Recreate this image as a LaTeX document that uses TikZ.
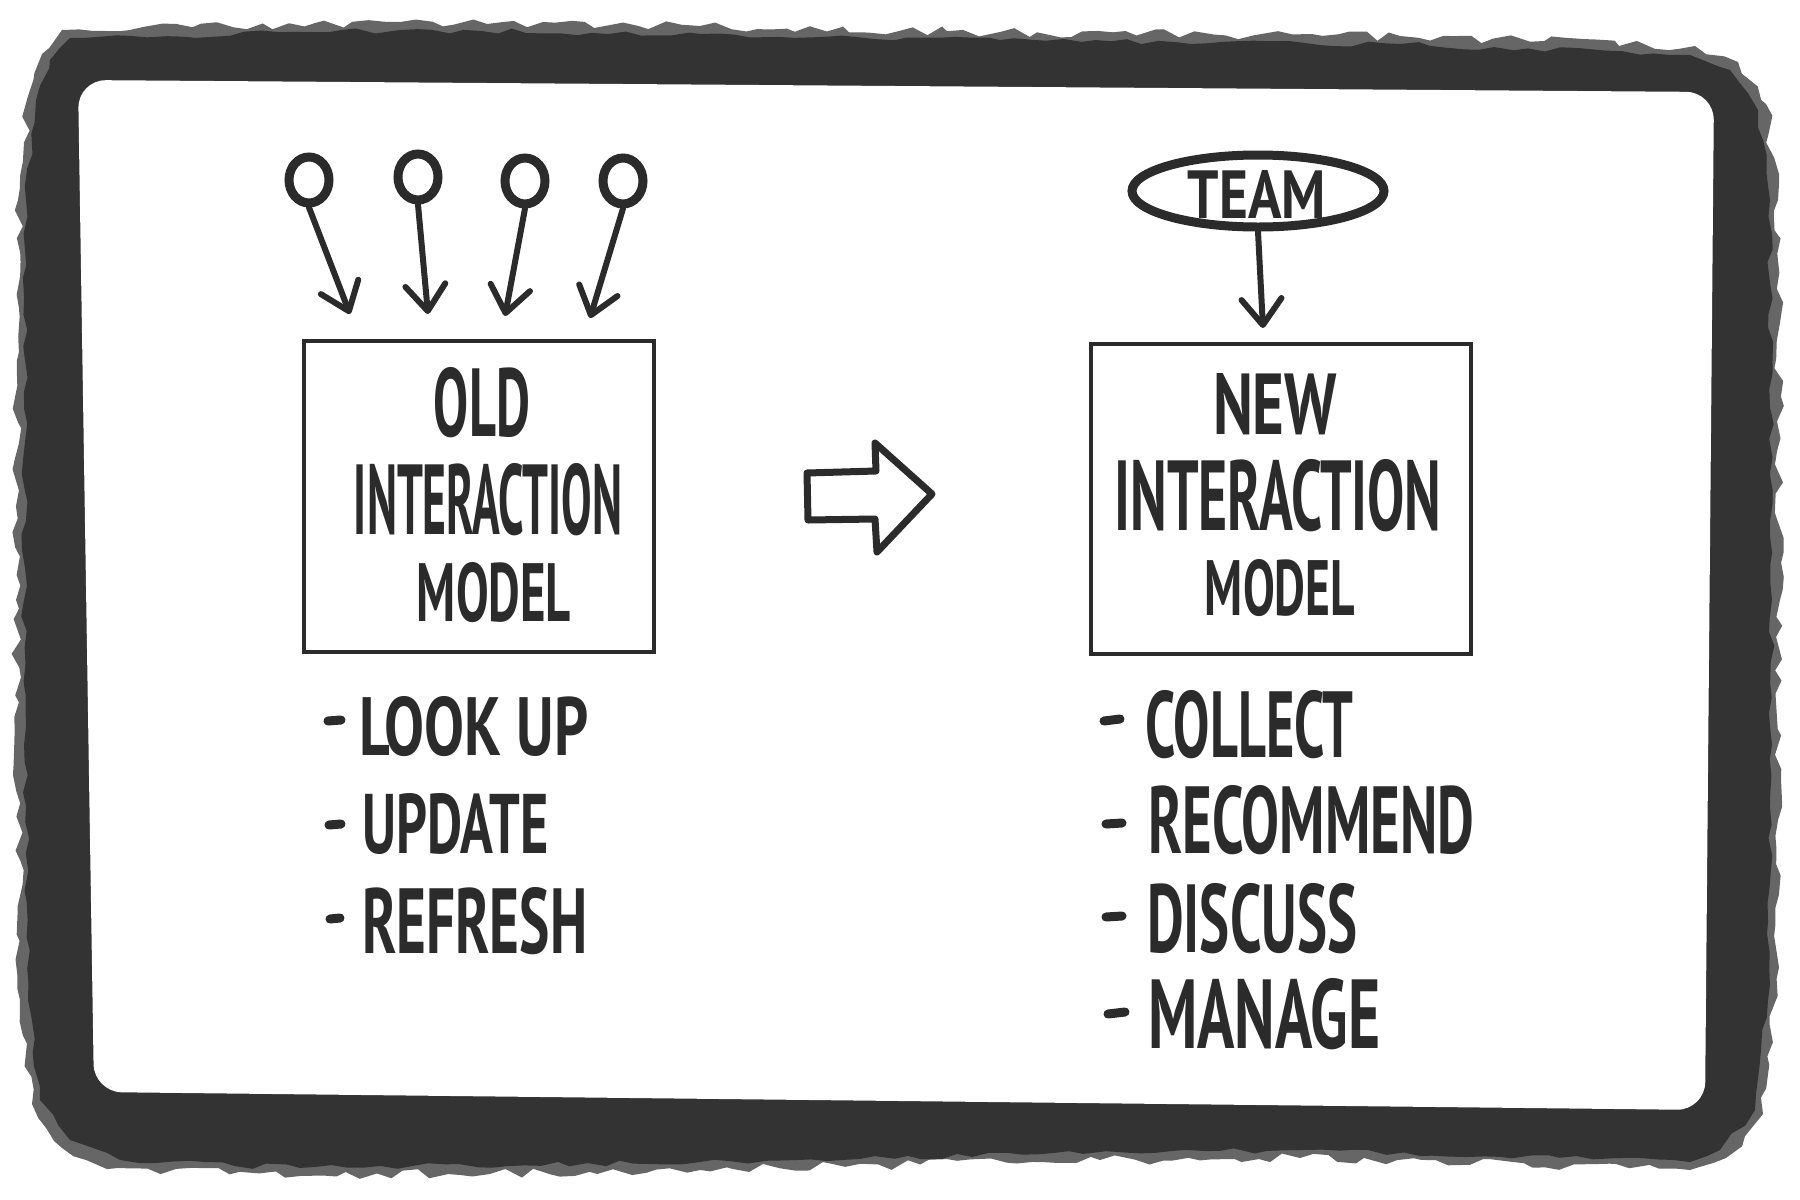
\documentclass[tikz,border=0pt]{standalone}
\usepackage{fontspec}
\usetikzlibrary{arrows.meta,shapes.geometric,decorations.pathmorphing}
\newfontfamily\hfont{PT Sans}
\definecolor{ink}{HTML}{2B2B2B}
\definecolor{grunge}{HTML}{333333}
\newcommand{\hw}[3]{\resizebox{#1pt}{#2pt}{\hfont\bfseries #3}}
\tikzset{
  flow/.style={draw=ink, line width=6pt, line cap=round,
    -{Straight Barb[length=26pt,width=40pt,round]}},
  modelbox/.style={draw=ink, line width=4pt},
  bubble/.style={draw=ink, line width=9pt, ellipse, inner sep=0pt},
  txt/.style={inner sep=0pt, text=ink},
  bulletdash/.style={draw=ink, line width=9pt, line cap=round},
}
\begin{document}
\begin{tikzpicture}[x=1pt,y=-1pt]
\useasboundingbox (0,0) rectangle (1800,1200);
\pgfmathsetseed{11}
% grungy frame
\fill[grunge!75, decorate, decoration={random steps, segment length=14pt, amplitude=5pt}]
  (62,30) -- (400,22) -- (700,26) -- (1000,32) -- (1400,36) -- (1695,46) -- (1738,62) -- (1766,104) -- (1778,200) -- (1780,600) -- (1776,1000) -- (1763,1114) -- (1726,1158) -- (1690,1170) -- (1300,1158) -- (1100,1160) -- (700,1170) -- (300,1176) -- (118,1168) -- (62,1148) -- (32,1104) -- (20,1000) -- (16,600) -- (18,200) -- (28,96) -- (42,54) -- cycle;
\fill[grunge, decorate, decoration={random steps, segment length=16pt, amplitude=3pt}]
  (70,38) -- (400,30) -- (700,34) -- (1000,40) -- (1400,44) -- (1690,55) -- (1730,70) -- (1758,110) -- (1770,200) -- (1772,600) -- (1768,1000) -- (1755,1110) -- (1720,1150) -- (1690,1162) -- (1300,1150) -- (1100,1152) -- (700,1162) -- (300,1168) -- (120,1160) -- (70,1140) -- (40,1100) -- (28,1000) -- (24,600) -- (26,200) -- (36,100) -- (50,60) -- cycle;
% white card
\fill[white, rounded corners=28pt] (78,80) -- (1714,92) -- (1705,1110) -- (94,1092) -- cycle;

% ---- old model ----
\node[bubble, minimum width=40pt, minimum height=46pt] (c1) at (309,180) {};
\node[bubble, minimum width=40pt, minimum height=46pt] (c2) at (418,177) {};
\node[bubble, minimum width=40pt, minimum height=46pt] (c3) at (525,181) {};
\node[bubble, minimum width=40pt, minimum height=46pt] (c4) at (623,181) {};
\coordinate (t1) at (350,314);
\coordinate (t2) at (428,314);
\coordinate (t3) at (505,316);
\coordinate (t4) at (590,318);
\draw[flow] (c1.south) -- (t1);
\draw[flow] (c2.south) -- (t2);
\draw[flow] (c3.south) -- (t3);
\draw[flow] (c4.south) -- (t4);
\draw[modelbox] (304,341) rectangle (654,652);
\node[txt, anchor=north] (o1) at (482,367) {\hw{96}{69}{OLD}};
\node[txt, anchor=north] (o2) at (488,463) {\hw{268}{71}{INTERACTION}};
\node[txt, anchor=north] (o3) at (494,562) {\hw{154}{59}{MODEL}};

\draw[bulletdash] (328,721) -- (341,720);
\draw[bulletdash] (329,825) -- (341,824);
\draw[bulletdash] (330,919) -- (340,918);
\node[txt, anchor=north west] (l1) at (359,696) {\hw{229}{59}{LOOK UP}};
\node[txt, anchor=north west] (l2) at (362,793) {\hw{186}{60}{UPDATE}};
\node[txt, anchor=north west] (l3) at (362,887) {\hw{225}{66}{REFRESH}};

% ---- middle arrow ----
\draw[ink, line width=7pt, line join=round, line cap=round]
  (807,473) -- (876,471) -- (875,443) -- (932,494) -- (877,552) -- (875,519) -- (808,520) -- cycle;

% ---- new model ----
\node[bubble, minimum width=252pt, minimum height=72pt] (team) at (1258,191) {};
\node[txt] (teamt) at (1257,194) {\hw{138}{48}{TEAM}};
\coordinate (t5) at (1263,328);
\draw[flow] (team.south) -- (t5);
\draw[modelbox] (1091,344) rectangle (1471,654);
\node[txt, anchor=north] (n1) at (1275,373) {\hw{124}{61}{NEW}};
\node[txt, anchor=north] (n2) at (1278,459) {\hw{327}{71}{INTERACTION}};
\node[txt, anchor=north] (n3) at (1280,559) {\hw{150}{56}{MODEL}};

\draw[bulletdash] (1104,721) -- (1120,719);
\draw[bulletdash] (1106,824) -- (1122,823);
\draw[bulletdash] (1106,917) -- (1122,916);
\draw[bulletdash] (1108,1014) -- (1125,1012);
\node[txt, anchor=north west] (r1) at (1145,690) {\hw{208}{67}{COLLECT}};
\node[txt, anchor=north west] (r2) at (1148,785) {\hw{326}{68}{RECOMMEND}};
\node[txt, anchor=north west] (r3) at (1147,883) {\hw{210}{69}{DISCUSS}};
\node[txt, anchor=north west] (r4) at (1148,978) {\hw{232}{70}{MANAGE}};
\end{tikzpicture}
\end{document}
